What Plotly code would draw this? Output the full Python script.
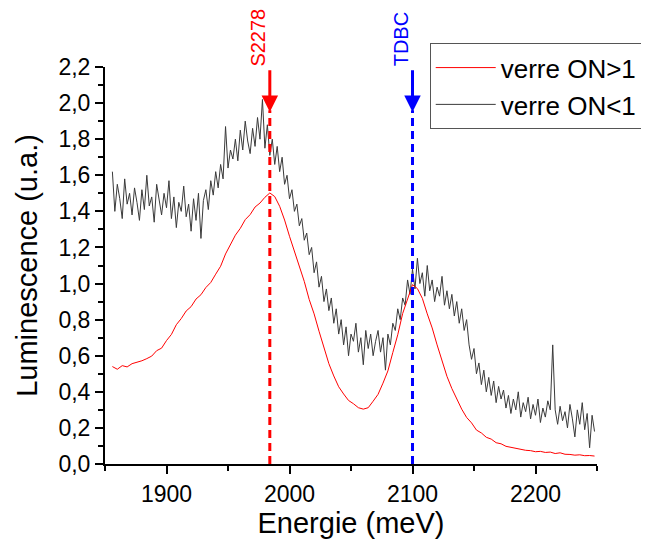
import numpy as np
import plotly.graph_objects as go

# Energie (meV) sampling of the two spectra
energy_black = np.arange(1856, 2250, 2)
energy_red = np.arange(1856, 2250, 4)

# verre ON<1 (noisy spectrum)
lum_black = [
    1.62, 1.40, 1.55, 1.47, 1.36, 1.58, 1.44, 1.50, 1.38, 1.53,
    1.45, 1.35, 1.52, 1.41, 1.60, 1.43, 1.48, 1.34, 1.55, 1.46,
    1.38, 1.50, 1.42, 1.57, 1.36, 1.48, 1.31, 1.45, 1.40, 1.54,
    1.37, 1.44, 1.29, 1.47, 1.35, 1.50, 1.25, 1.46, 1.52, 1.41,
    1.57, 1.49, 1.62, 1.53, 1.66, 1.58, 1.87, 1.64, 1.74, 1.69,
    1.80, 1.68, 1.85, 1.74, 1.90, 1.79, 1.72, 1.86, 1.76, 1.92,
    1.80, 2.02, 1.75, 1.88, 1.71, 1.80, 1.66, 1.76, 1.62, 1.70,
    1.55, 1.60, 1.47, 1.52, 1.40, 1.44, 1.32, 1.36, 1.24, 1.28,
    1.16, 1.20, 1.06, 1.12, 0.98, 1.04, 0.90, 0.97, 0.85, 0.92,
    0.78, 0.86, 0.72, 0.80, 0.66, 0.76, 0.60, 0.72, 0.68, 0.78,
    0.62, 0.70, 0.55, 0.74, 0.64, 0.72, 0.60, 0.68, 0.74, 0.62,
    0.70, 0.52, 0.72, 0.66, 0.78, 0.74, 0.86, 0.80, 0.92, 0.88,
    1.02, 0.94, 1.08, 0.97, 1.14, 1.00, 1.06, 0.93, 1.10, 0.96,
    1.02, 0.90, 0.98, 0.93, 1.04, 0.88, 0.96, 0.86, 0.94, 0.82,
    0.90, 0.78, 0.86, 0.74, 0.80, 0.66, 0.58, 0.64, 0.50, 0.56,
    0.44, 0.52, 0.40, 0.48, 0.38, 0.46, 0.34, 0.43, 0.36, 0.41,
    0.31, 0.38, 0.28, 0.36, 0.30, 0.40, 0.26, 0.34, 0.29, 0.37,
    0.25, 0.33, 0.27, 0.36, 0.23, 0.31, 0.26, 0.35, 0.30, 0.66,
    0.30, 0.22, 0.32, 0.24, 0.29, 0.20, 0.33, 0.25, 0.15, 0.30,
    0.22, 0.34, 0.19, 0.28, 0.09, 0.27, 0.18,
]

# verre ON>1 (smooth spectrum, small jitter)
lum_red = [
    0.540, 0.525, 0.545, 0.538, 0.556, 0.562, 0.572, 0.584, 0.598, 0.628,
    0.642, 0.684, 0.718, 0.772, 0.806, 0.848, 0.872, 0.914, 0.938, 0.978,
    1.006, 1.052, 1.096, 1.164, 1.218, 1.268, 1.306, 1.354, 1.382, 1.424,
    1.446, 1.478, 1.502, 1.482, 1.428, 1.352, 1.262, 1.178, 1.088, 1.012,
    0.912, 0.832, 0.736, 0.648, 0.556, 0.488, 0.428, 0.388, 0.352, 0.334,
    0.312, 0.304, 0.312, 0.348, 0.386, 0.448, 0.516, 0.618, 0.716, 0.834,
    0.918, 0.994, 0.972, 0.918, 0.832, 0.754, 0.660, 0.578, 0.486, 0.418,
    0.356, 0.304, 0.258, 0.228, 0.188, 0.172, 0.148, 0.138, 0.118, 0.112,
    0.098, 0.092, 0.086, 0.082, 0.076, 0.074, 0.068, 0.070, 0.064, 0.066,
    0.058, 0.062, 0.054, 0.053, 0.049, 0.051, 0.046, 0.047, 0.044,
]

# marked peaks
peak_pos = [1984, 2100]
peak_names = ["S2278", "TDBC"]
peak_colors = ["red", "blue"]

y_ticks = [0.0, 0.2, 0.4, 0.6, 0.8, 1.0, 1.2, 1.4, 1.6, 1.8, 2.0, 2.2]
y_ticktext = ["0,0", "0,2", "0,4", "0,6", "0,8", "1,0", "1,2", "1,4", "1,6", "1,8", "2,0", "2,2"]
x_ticks = [1900, 2000, 2100, 2200]

FONT = "Liberation Sans, Arial, sans-serif"

fig = go.Figure()
fig.add_trace(go.Scatter(x=energy_black, y=lum_black, mode="lines",
                         line=dict(color="#3a3a3a", width=1), name="verre ON<1"))
fig.add_trace(go.Scatter(x=energy_red, y=lum_red, mode="lines",
                         line=dict(color="red", width=1), name="verre ON>1"))

for pos, name, col in zip(peak_pos, peak_names, peak_colors):
    # dashed marker line from the arrow tip down to the axis
    fig.add_shape(type="line", x0=pos, x1=pos, y0=0, y1=1.96, xref="x", yref="y",
                  line=dict(color=col, width=3, dash="8px,5px"))
    # arrow
    fig.add_annotation(x=pos, y=1.95, ax=pos, ay=2.19, xref="x", yref="y",
                       axref="x", ayref="y", text="", showarrow=True,
                       arrowhead=2, arrowsize=1.1, arrowwidth=3, arrowcolor=col,
                       standoff=0)
    # rotated label above the arrow
    fig.add_annotation(x=pos, y=2.19, xref="x", yref="y", text=name,
                       textangle=-90, showarrow=False, xanchor="center",
                       yanchor="bottom", xshift=-12,
                       font=dict(family=FONT, size=20, color=col))

# page body has an 8px margin, so the figure is a little smaller than the window
fig.update_layout(
    width=641, height=533,
    margin=dict(l=97, r=52, t=59, b=77, autoexpand=False),
    plot_bgcolor="white", paper_bgcolor="white",
    font=dict(family=FONT, color="black"),
    showlegend=True,
    legend=dict(x=0.66, y=1.06, xanchor="left", yanchor="top", itemwidth=60,
                traceorder="reversed", bordercolor="#555555", borderwidth=1,
                bgcolor="white", font=dict(family=FONT, size=26)),
)

fig.update_xaxes(
    range=[1850, 2250], tickvals=x_ticks, showgrid=False, zeroline=False,
    showline=True, linecolor="black", linewidth=2,
    ticks="outside", ticklen=8, tickwidth=2, tickcolor="black",
    tickfont=dict(family=FONT, size=23),
    minor=dict(tickvals=[1850, 1950, 2050, 2150, 2250], ticks="outside",
               ticklen=5, tickwidth=2, tickcolor="black"),
    title=dict(text="Energie (meV)", font=dict(family=FONT, size=29), standoff=6),
)
fig.update_yaxes(
    range=[0, 2.2], tickvals=y_ticks, ticktext=y_ticktext, showgrid=False,
    zeroline=False, showline=True, linecolor="black", linewidth=2,
    ticks="outside", ticklen=8, tickwidth=2, tickcolor="black",
    tickfont=dict(family=FONT, size=23),
    minor=dict(dtick=0.1, ticks="outside", ticklen=5, tickwidth=2, tickcolor="black"),
    title=dict(text="Luminescence (u.a.)", font=dict(family=FONT, size=29), standoff=12),
)

fig.write_html("out.html")
